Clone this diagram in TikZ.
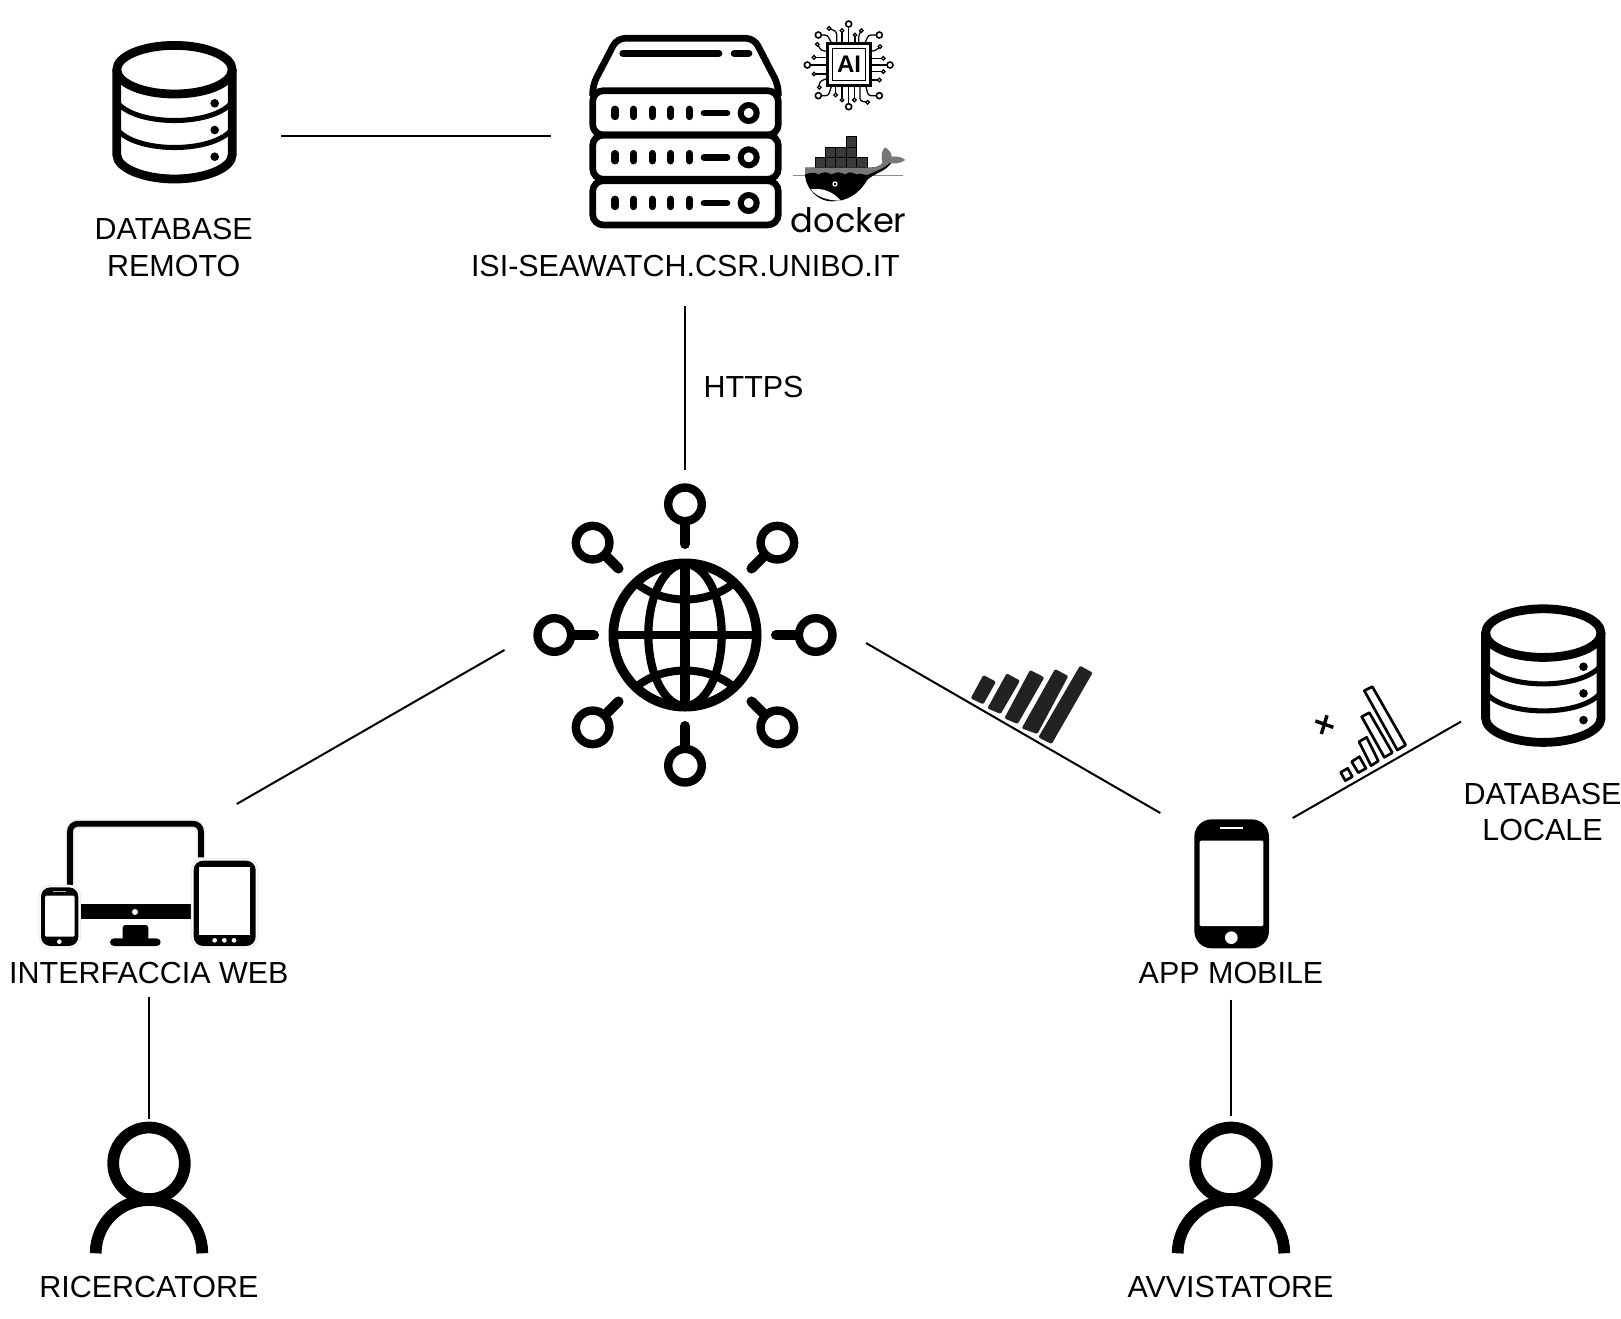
\documentclass[tikz,border=0pt]{standalone}
\usepackage{fontspec}
\setmainfont{Liberation Sans}
\newfontfamily\dockerfont{Poppins}
\definecolor{barblack}{HTML}{222222}
\definecolor{contdark}{HTML}{3A3A3A}
\definecolor{whalegray}{HTML}{777777}
\tikzset{
  link/.style={draw=black,line width=1.5pt},
  lab/.style={inner sep=0pt,align=center,font=\fontsize{22.85}{27.2}\selectfont},
  halo/.style={draw=black!10,fill=white,line width=0.5pt},
  pics/dbicon/.style={code={
    \draw[line width=6.6pt] (0,-40.3) ellipse [x radius=57.7,y radius=24.3];
    \draw[line width=6.6pt,line cap=butt] (-57.7,-40.3) -- (-57.7,44.7)
      .. controls (-57.7,58) and (-31,69) .. (0,69)
      .. controls (31,69) and (57.7,58) .. (57.7,44.7) -- (57.7,-40.3);
    \draw[line width=3.8pt] (-56,-6) .. controls (-35,16) and (35,16) .. (56,-6);
    \draw[line width=3.8pt] (-56,21) .. controls (-35,43) and (35,43) .. (56,21);
    \foreach \yy in {-6.7,20,46.7} \fill (40.2,\yy) circle (4.3);
  }},
  pics/personicon/.style={code={
    \draw[line width=8.8pt] (0,0) circle (35.8);
    \draw[line width=8.8pt,line cap=butt] (-53.3,90)
      .. controls (-53.3,60.5) and (-29.4,36.7) .. (0,36.7)
      .. controls (29.4,36.7) and (53.3,60.5) .. (53.3,90);
  }},
  pics/rackunit/.style={code={
    \draw[line width=5pt,rounded corners=8] (592.7,0) rectangle (778.3,44.3);
    \foreach \xx in {615,633.7,652.3,670.7,689.3}
      \draw[line width=5.5pt,line cap=round] (\xx,18.6) -- (\xx,25.8);
    \draw[line width=5pt,line cap=round] (704,22.3) -- (727,22.3);
    \draw[line width=4.5pt] (748.7,22.3) circle (8);
  }},
}
\begin{document}
\begin{tikzpicture}[x=0.75pt,y=-0.75pt,line cap=butt]
\useasboundingbox (0,0) rectangle (1621,1318);
\fill[white] (0,0) rectangle (1621,1318);

% ---- connector end points
\coordinate (dbR)   at (281,136);
\coordinate (srvW)  at (551,136);
\coordinate (srvS)  at (684.5,306);
\coordinate (netN)  at (684.5,470);
\coordinate (netW)  at (504.5,650);
\coordinate (webNE) at (236.7,804);
\coordinate (netE)  at (866,643);
\coordinate (appNW) at (1160.3,813);
\coordinate (appNE) at (1292.7,818);
\coordinate (dbL)   at (1461,721.6);
\coordinate (webS)  at (148.9,996.6);
\coordinate (ricN)  at (148.9,1118.6);
\coordinate (appS)  at (1231,999.7);
\coordinate (avvN)  at (1231,1115.5);

\draw[link] (dbR) -- (srvW);
\draw[link] (srvS) -- (netN);
\draw[link] (netW) -- (webNE);
\draw[link] (netE) -- (appNW);
\draw[link] (appNE) -- (dbL);
\draw[link] (webS) -- (ricN);
\draw[link] (appS) -- (avvN);

% ---- databases
\pic at (174.5,110) {dbicon};
\pic at (1543.3,673.4) {dbicon};

% ---- persons
\pic at (149,1163.3) {personicon};
\pic at (1231,1163.3) {personicon};

% ---- server
\draw[line width=5pt,line join=round,rounded corners=6]
  (592.7,96) -- (592.7,85) -- (617,38.3) -- (754,38.3) -- (778.3,85) -- (778.3,96);
\draw[line width=5.5pt,line cap=round] (623,53.3) -- (718.7,53.3);
\draw[line width=5.5pt,line cap=round] (734.3,53.3) -- (748.7,53.3);
\pic at (0,90.7) {rackunit};
\pic at (0,135) {rackunit};
\pic at (0,180.7) {rackunit};

% ---- AI chip
\begin{scope}[shift={(800,15)},scale=1/3,line width=0.95pt]
  \foreach \ax/\ay/\bx/\by/\cx/\cy in {
     55/60/82/60/95/85, 238/60/205/60/195/85, 55/242/85/242/95/212, 238/242/205/242/197/212,
     184/47/176/60/176/85, 87/40/110/50/110/85, 52/88/65/108/82/108, 240/95/225/108/212/108,
     58/217/58/200/82/190, 238/195/225/195/212/195, 203/262/180/258/180/212}
    \draw[rounded corners=2] (\ax,\ay) -- (\bx,\by) -- (\cx,\cy);
  \foreach \ax/\ay/\bx/\by in {
     146/27/146/85, 22/150/82/150, 270/150/212/150, 146/275/146/212,
     126/47/126/85, 165/60/165/85, 42/127/82/127, 42/177/82/177,
     250/130/212/130, 250/170/212/170, 126/255/126/212, 107/240/107/212, 163/255/163/212}
    \draw (\ax,\ay) -- (\bx,\by);
  \foreach \cx/\cy in {146/27,22/150,270/150,146/275,55/60,238/60,55/242,238/242}
    \draw[fill=white,line width=1.2pt] (\cx,\cy) circle (9);
  \foreach \cx/\cy in {126/47,165/60,184/47,87/40,52/88,42/127,42/177,58/217,
                       240/95,250/130,250/170,238/195,126/255,107/240,163/255,203/262}
    \draw[fill=white] (\cx,\cy) circle (5.5);
  \draw[fill=white,line width=2pt] (82,85) rectangle (212,212);
  \draw[line width=1.2pt] (97,100) rectangle (197,197);
  \node[inner sep=0pt,font=\fontsize{18}{18}\bfseries\selectfont] (aitext) at (147,149) {AI};
\end{scope}

% ---- docker whale
\begin{scope}[shift={(790,130)},scale=1/3]
  \draw[black!45,line width=0.35pt] (10,136) -- (340,136);
  \foreach \xx/\yy/\ww/\hh in {75/83/31/30,106/83/31/30,137/83/31/30,168/83/32/30,200/83/33/30,
                               105/52/32/31,137/52/31/31,168/52/32/31,168/20/32/32}
    \draw[fill=contdark,draw=black,line width=0.5pt] (\xx,\yy) rectangle +(\ww,\hh);
  % body
  \fill[black] (45,113) -- (240,113)
     .. controls (258,113) and (274,108) .. (280,95) -- (305,97)
     .. controls (288,124) and (258,128) .. (233,148)
     .. controls (205,195) and (170,214) .. (125,214)
     .. controls (85,214) and (50,180) .. (45,137) -- cycle;
  % grey band
  \fill[whalegray] (45,113) -- (240,113)
     .. controls (258,113) and (274,108) .. (280,95) -- (300,97)
     .. controls (285,115) and (258,122) .. (236,133)
     .. controls (225,140) and (215,125) .. (200,133)
     .. controls (185,125) and (175,125) .. (165,133)
     .. controls (150,125) and (140,125) .. (125,133)
     .. controls (110,125) and (100,125) .. (85,133)
     .. controls (75,125) and (60,128) .. (45,133) -- cycle;
  % tail
  \fill[whalegray] (278,100) .. controls (272,80) and (275,60) .. (285,52)
     .. controls (296,58) and (305,68) .. (305,80)
     .. controls (318,78) and (335,80) .. (346,90)
     .. controls (330,102) and (308,102) .. (295,98) -- cycle;
  % belly
  \fill[white] (62,178) .. controls (95,172) and (130,185) .. (152,212)
     .. controls (112,212) and (80,200) .. (62,178) -- cycle;
  \draw[white,line width=0.9pt,fill=black] (135,162) circle (6);
  \node[anchor=base,inner sep=0pt,font=\dockerfont\fontsize{25.3}{25.3}\selectfont] (dockertext) at (176,306) {docker};
\end{scope}

% ---- globe
\begin{scope}[shift={(685,635)}]
  \draw[line width=6.2pt] (0,0) ellipse [x radius=36.7,y radius=71];
  \draw[line width=7pt] (0,-72) -- (0,72);
  \draw[line width=6.5pt] (-72,0) -- (72,0);
  \draw[line width=6pt] (-49,-52) .. controls (-22,-30) and (22,-30) .. (49,-52);
  \draw[line width=6pt] (-49,52) .. controls (-22,30) and (22,30) .. (49,52);
  \draw[line width=7.2pt] (0,0) circle (71.7);
  \foreach \ang/\rr/\rs in {0/91/130.7, 90/91/130.7, 180/91/130.7, 270/91/130.7,
                        45/94/130.6, 135/94/130.6, 225/94/130.6, 315/94/130.6} {
    \draw[line width=7.5pt,line cap=round] (\ang:\rr) -- (\ang:110);
    \draw[line width=6.3pt,fill=white] (\ang:\rs) circle (16.8);
  }
\end{scope}

% ---- web devices
\begin{scope}[shift={(20,800)},scale=1/3]
  \draw[black!10,line width=6.4pt,rounded corners=6] (150,255) -- (150,71) -- (543,71) -- (543,172);
  \draw[line width=4.3pt,rounded corners=6] (150,255) -- (150,71) -- (543,71) -- (543,172);
  \fill (183,313) rectangle (512,358);
  \fill[white] (345,336) circle (9);
  \fill[rounded corners=2] (308,375) rectangle (385,420);
  \fill[rounded corners=3] (270,415) rectangle (422,438);
  \draw[halo,rounded corners=9] (56,255) rectangle (182,445);
  \fill[black,rounded corners=7] (63,262) rectangle (175,438);
  \fill[white,rounded corners=1] (75,287) rectangle (164,410);
  \draw[white!70!black,line width=1pt] (100,275) -- (138,275);
  \fill[white] (118,425) circle (7);
  \draw[halo,rounded corners=9] (514,175) rectangle (714,445);
  \fill[black,rounded corners=7] (521,182) rectangle (707,438);
  \fill[white] (537,202) rectangle (690,405);
  \foreach \xx in {584,613,642} \fill[white] (\xx,421) circle (7);
\end{scope}

% ---- app phone and signal bars
\begin{scope}[shift={(950,640)},scale=1/3]
  \fill[rounded corners=13] (733,538) rectangle (957,925);
  \fill[white,rounded corners=1] (749,602) rectangle (940,858);
  \draw[white,line width=1.6pt] (810,565) -- (878,565);
  \fill[white] (844,893) circle (19);

  \foreach \a/\b/\c/\d/\e/\f/\g/\h in {
     100/105/138/125/100/193/62/175,
     170/100/210/122/152/222/112/205,
     240/90/283/112/203/252/163/235,
     315/87/355/108/262/282/215/265,
     390/77/428/98/305/312/265/292}
    \fill[barblack,rounded corners=1] (\a,\b) -- (\c,\d) -- (\e,\f) -- (\g,\h) -- cycle;

  \foreach \a/\b/\c/\d/\e/\f/\g/\h in {
     1172/397/1193/385/1207/410/1186/422,
     1205/365/1228/350/1248/385/1225/398,
     1227/305/1250/292/1285/363/1263/377,
     1235/230/1258/218/1327/338/1303/352,
     1243/152/1267/140/1367/315/1342/330}
    \draw[line width=2pt,line join=round] (\a,\b) -- (\c,\d) -- (\e,\f) -- (\g,\h) -- cycle;

  \draw[line width=2.6pt] (1096,243) -- (1150,262);
  \draw[line width=2.6pt] (1131,226) -- (1114,282);
\end{scope}

% ---- labels
\node[lab] (lDbR) at (173.7,247.5) {DATABASE\\REMOTO};
\node[lab] (lSrv) at (685.4,266.2) {ISI-SEAWATCH.CSR.UNIBO.IT};
\node[lab] (lHttps) at (753.6,387.2) {HTTPS};
\node[lab] (lWeb) at (148.9,973.2) {INTERFACCIA WEB};
\node[lab] (lApp) at (1231,973.2) {APP MOBILE};
\node[lab] (lRic) at (148.9,1287.2) {RICERCATORE};
\node[lab] (lAvv) at (1230.5,1287.2) {AVVISTATORE};
\node[lab] (lDbL) at (1542.5,812) {DATABASE\\LOCALE};
\end{tikzpicture}
\end{document}
